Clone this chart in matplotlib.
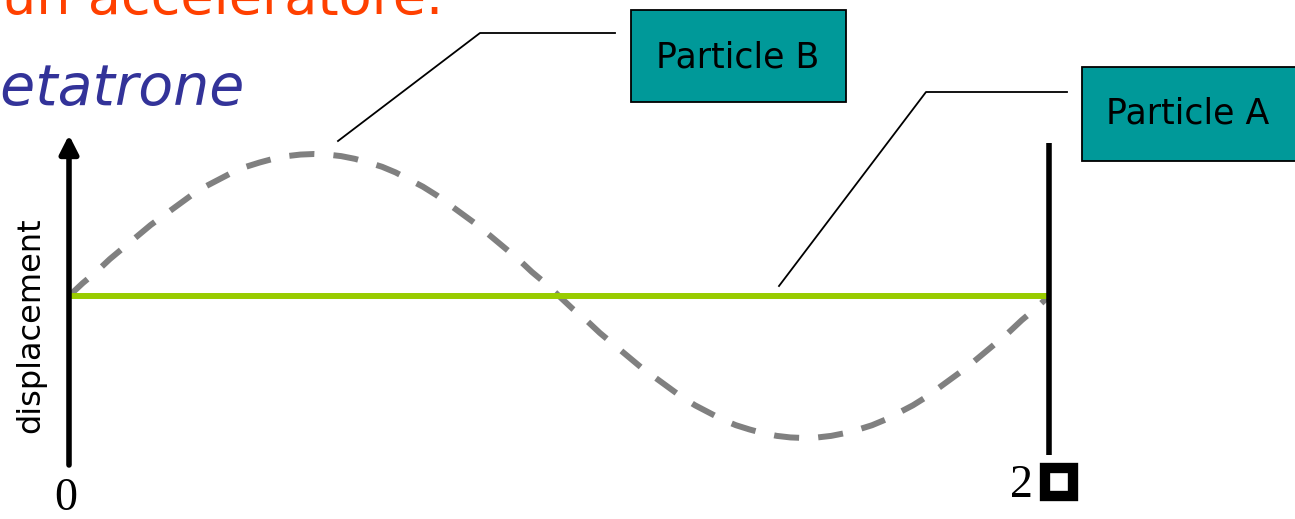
import matplotlib
matplotlib.use('Agg')
import matplotlib.pyplot as plt
import matplotlib.patheffects as pe
from matplotlib.patches import Rectangle

# phase in degrees over one period, displacement in units of amplitude
phase = list(range(0, 365, 5))
disp_b = [0.0, 0.09, 0.17, 0.26, 0.34, 0.42, 0.5, 0.57, 0.64, 0.71, 0.77, 0.82, 0.87, 0.91, 0.94, 0.966, 0.985, 0.996, 1.0,
          0.996, 0.985, 0.966, 0.94, 0.91, 0.87, 0.82, 0.77, 0.71, 0.64, 0.57, 0.5, 0.42, 0.34, 0.26, 0.17, 0.09, 0.0,
          -0.09, -0.17, -0.26, -0.34, -0.42, -0.5, -0.57, -0.64, -0.71, -0.77, -0.82, -0.87, -0.91, -0.94, -0.966, -0.985, -0.996, -1.0,
          -0.996, -0.985, -0.966, -0.94, -0.91, -0.87, -0.82, -0.77, -0.71, -0.64, -0.57, -0.5, -0.42, -0.34, -0.26, -0.17, -0.09, 0.0]
phase_a = [0, 360]
disp_a = [0.0, 0.0]

W, H = 1295, 519
fig = plt.figure(figsize=(W / 100, H / 100), dpi=100)
fig.patch.set_facecolor('white')

# overlay in pixel coordinates for labels / callouts
ov = fig.add_axes([0, 0, 1, 1])
ov.set_xlim(0, W)
ov.set_ylim(H, 0)
ov.axis('off')

# main plot area
ax = fig.add_axes([69 / W, (H - 465) / H, 980 / W, 330 / H])
ax.set_xlim(0, 360)
ax.set_ylim(-169 / 142, 161 / 142)
ax.axis('off')

ax.plot(phase_a, disp_a, color='#99cc00', lw=4.3, solid_capstyle='butt', clip_on=False, zorder=3)
ax.plot(phase, disp_b, color='#808080', lw=4.3, dashes=(4.2, 3.2), dash_capstyle='butt',
        clip_on=False, zorder=2)

# y axis arrow at phase 0 and end line at 2pi
ylo, yhi = ax.get_ylim()
ax.annotate('', xy=(0, yhi), xytext=(0, ylo), xycoords='data',
            arrowprops=dict(arrowstyle='-|>,head_length=0.55,head_width=0.28', lw=4, color='black',
                            mutation_scale=20, shrinkA=0, shrinkB=0), zorder=4)
ax.plot([360, 360], [(296 - 455) / 142, (296 - 143) / 142], color='black', lw=4,
        solid_capstyle='butt', clip_on=False, zorder=4)

# axis texts
ov.text(31, 325, 'displacement', rotation=90, ha='center', va='center', fontsize=23,
        family='DejaVu Sans')
ov.text(66, 510, '0', ha='center', va='baseline', fontsize=33, family='Liberation Serif')
ov.text(1021, 497, '2', ha='center', va='baseline', fontsize=33, family='Liberation Serif')
ov.text(1059, 492, '\u25a1', ha='center', va='baseline', fontsize=28, family='DejaVu Sans',
        path_effects=[pe.withStroke(linewidth=6, foreground='black', joinstyle='miter')])

# slide headings (cut off at the edge)
ov.text(2, 14, 'un acceleratore.', ha='left', va='baseline', fontsize=39, color='#ff4000')
ov.text(245, 105, 'Betatrone', ha='right', va='baseline', fontsize=41, style='italic', color='#333399')

# callout boxes
teal = '#009999'
ov.add_patch(Rectangle((631, 10), 215, 92, facecolor=teal, edgecolor='black', lw=1.3, zorder=5))
ov.text(738, 57, 'Particle B', ha='center', va='center', fontsize=25, zorder=6)
ov.add_patch(Rectangle((1082, 67), 220, 94, facecolor=teal, edgecolor='black', lw=1.3, zorder=5))
ov.text(1188, 114, 'Particle A', ha='center', va='center', fontsize=25, zorder=6)

# leader lines
ov.plot([338, 480, 615], [141, 33, 33], color='black', lw=1.3)
ov.plot([779, 926, 1067], [286, 92, 92], color='black', lw=1.3)

fig.savefig('out.png', dpi=100)
